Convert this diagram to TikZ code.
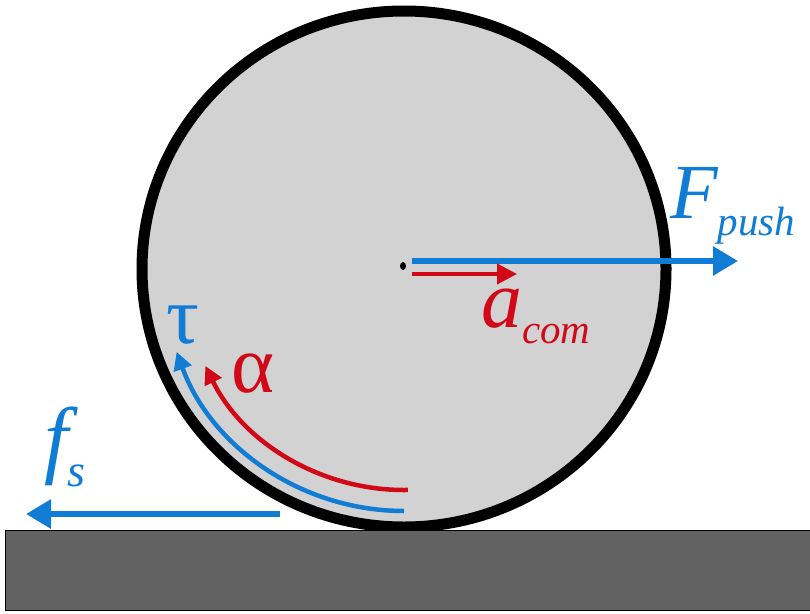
\documentclass[tikz,border=0pt]{standalone}
\usepackage{fontspec}
\setmainfont{Liberation Serif}
\newfontfamily\labelfont{Liberation Serif}
\usetikzlibrary{arrows.meta}
\definecolor{pblue}{RGB}{16,124,212}
\definecolor{pred}{RGB}{208,8,24}
\definecolor{wheel}{RGB}{210,210,210}
\definecolor{groundc}{RGB}{98,98,98}
\tikzset{
  bigarrow/.style={line width=6pt, -{Triangle[length=25pt,width=28pt]}},
  smallarrow/.style={line width=4pt, -{Triangle[length=20pt,width=20pt]}},
  arcarrow/.style={line width=4.5pt, -{Triangle[length=18pt,width=18pt]}},
  lbl/.style={inner sep=0pt, outer sep=0pt, anchor=base west, font=\labelfont},
}
\begin{document}
\begin{tikzpicture}[x=1pt,y=-1pt]
\useasboundingbox (0,0) rectangle (810,613);
% wheel
\coordinate (c) at (404,269);
\draw[line width=11pt, fill=wheel] (c) ellipse [x radius=262, y radius=258];
\fill[black] (403,266) ellipse [x radius=3, y radius=4];
% ground
\draw[line width=1pt, fill=groundc] (5,530) rectangle (812,610);
% F push
\coordinate (fp0) at (412,261);
\coordinate (fp1) at (738,261);
\draw[bigarrow, pblue] (fp0) -- (fp1);
\node[lbl, text=pblue] (Fpush) at (670,218)
  {\fontsize{78}{78}\selectfont\itshape F\raisebox{-17pt}{\fontsize{41}{41}\selectfont push}};
% a com
\coordinate (ac0) at (412,274);
\coordinate (ac1) at (517,274);
\draw[smallarrow, pred] (ac0) -- (ac1);
\node[lbl, text=pred] (acom) at (481,327)
  {\fontsize{82}{82}\selectfont\itshape a\raisebox{-16pt}{\fontsize{41}{41}\selectfont com}};
% f s
\coordinate (fs0) at (280,514);
\coordinate (fs1) at (26,514);
\draw[bigarrow, pblue] (fs0) -- (fs1);
\node[lbl, text=pblue] (fs) at (44,467)
  {\fontsize{86}{86}\selectfont\itshape f\raisebox{-19pt}{\fontsize{46}{46}\selectfont s}};
% torque arc
\draw[arcarrow, pblue] (c) ++(90:242) arc[start angle=90, end angle=160, radius=242];
\node[lbl, text=pblue] (tau) at (166,343) {\fontsize{82}{82}\selectfont τ};
% alpha arc
\draw[arcarrow, pred] (c) ++(89:221) arc[start angle=89, end angle=154, radius=221];
\node[lbl, text=pred] (alpha) at (231,392) {\fontsize{82}{82}\selectfont α};
\end{tikzpicture}
\end{document}
